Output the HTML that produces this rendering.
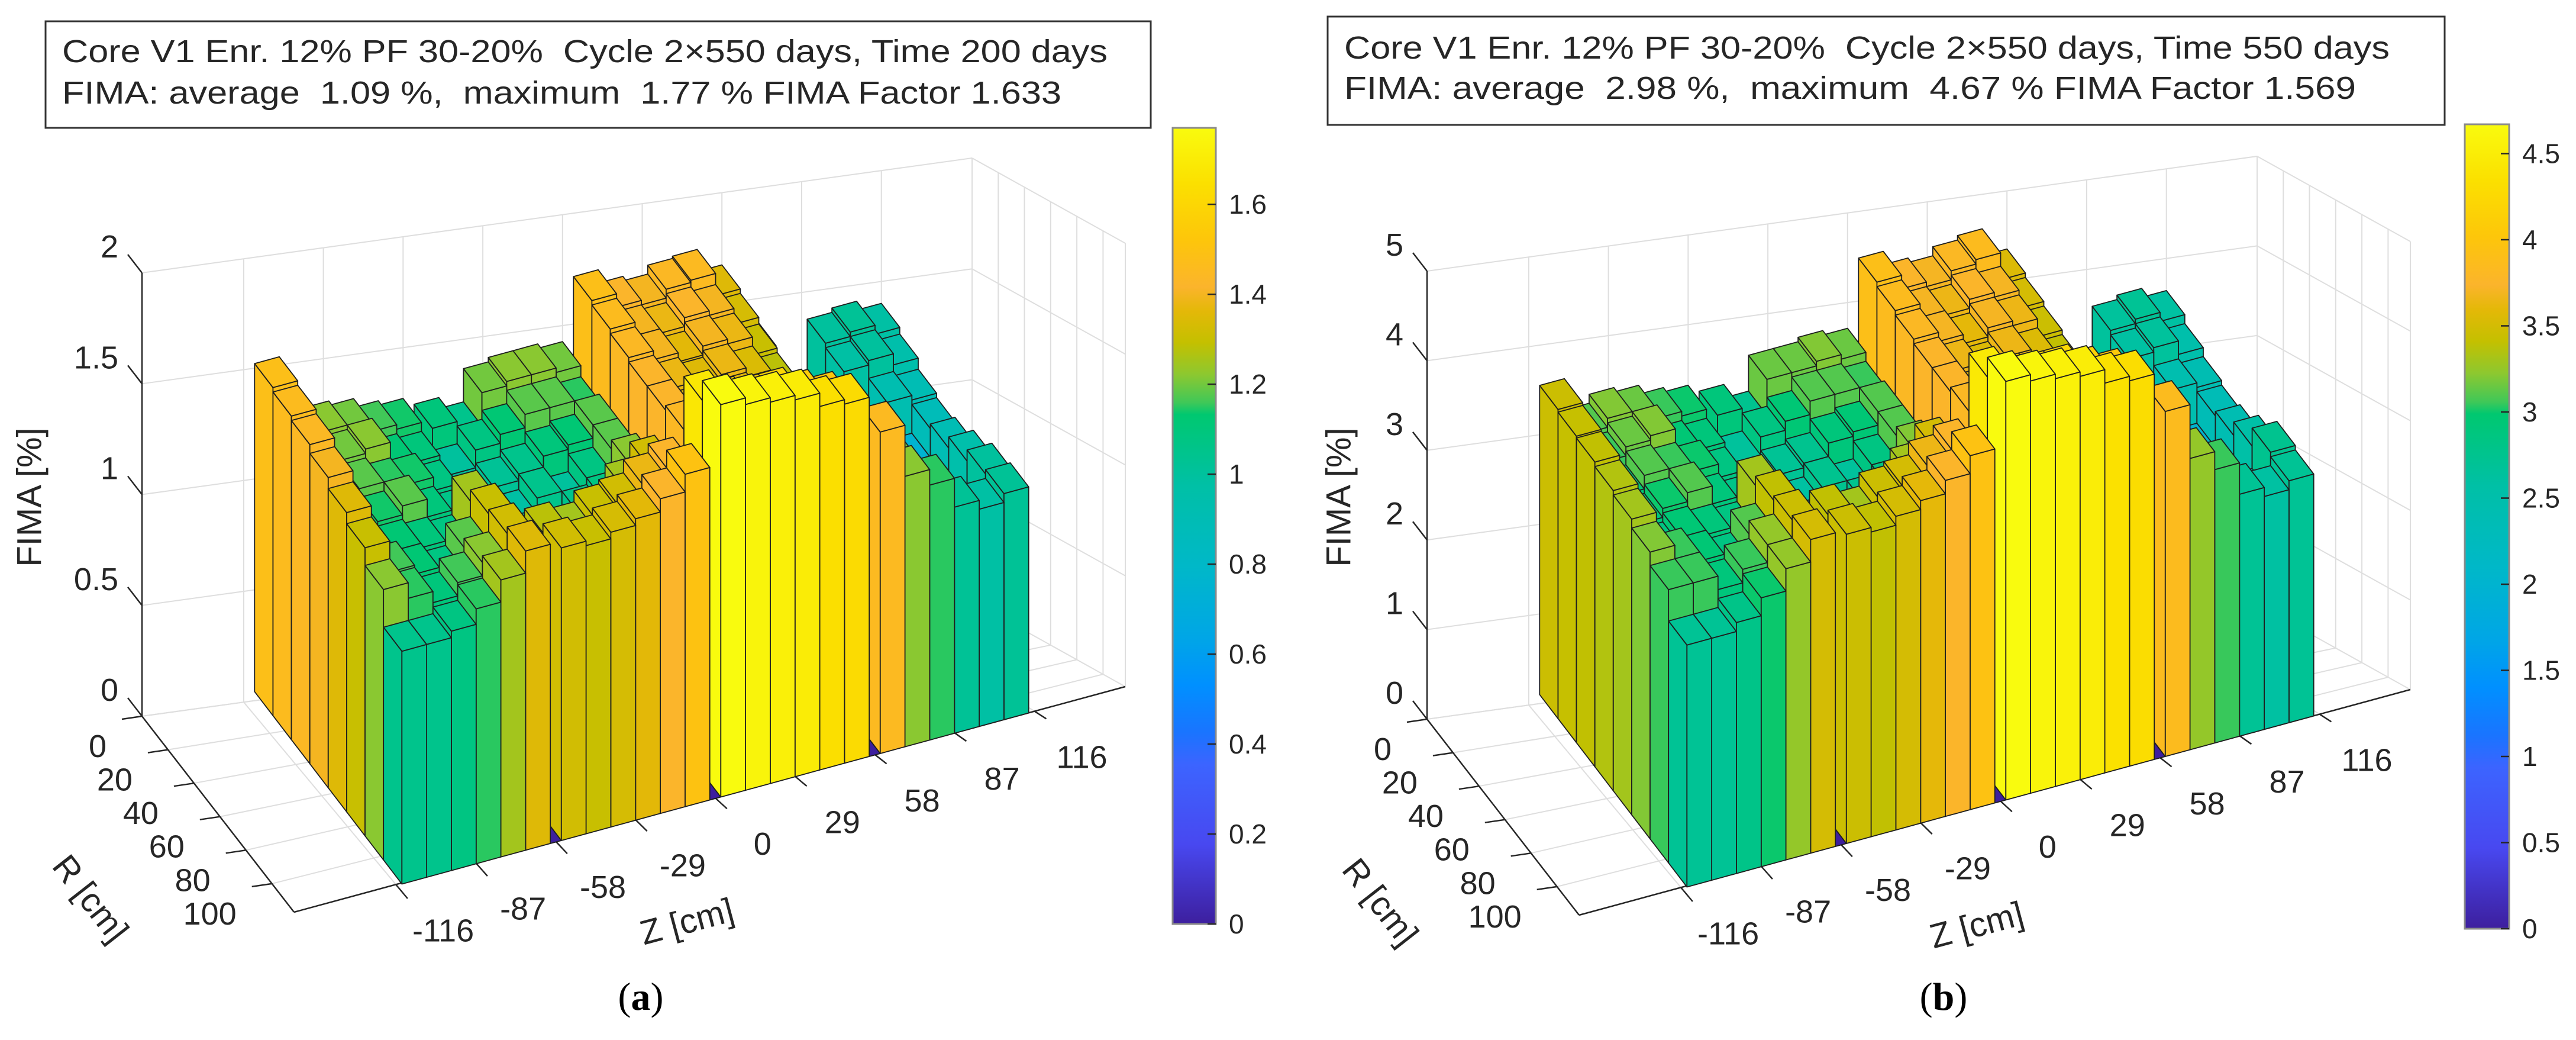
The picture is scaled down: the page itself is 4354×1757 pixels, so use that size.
<!DOCTYPE html>
<html><head><meta charset="utf-8"><title>FIMA 3D bar charts</title>
<style>
html,body{margin:0;padding:0;background:#fff;}
svg{display:block;}
text{font-family:"Liberation Sans",Arial,sans-serif;fill:#262626;}
.cap{font-family:"Liberation Serif","Times New Roman",serif;fill:#000;}
</style></head>
<body>
<svg id="fig" width="4354" height="1757" viewBox="0 0 4354 1757" xmlns="http://www.w3.org/2000/svg">
<defs id="defs"></defs>
<rect x="0" y="0" width="4354" height="1757" fill="#fff"/>
<g id="panelA"></g>
<g id="panelB"></g>

<g>
<rect x="77" y="36" width="1868" height="180" fill="#fff" stroke="#333" stroke-width="3"/>
<text x="105" y="87" font-size="54" dominant-baseline="central" textLength="1767" lengthAdjust="spacingAndGlyphs" style="white-space:pre">Core V1 Enr. 12% PF 30-20%  Cycle 2×550 days, Time 200 days</text>
<text x="105" y="157" font-size="54" dominant-baseline="central" textLength="1689" lengthAdjust="spacingAndGlyphs" style="white-space:pre">FIMA: average  1.09 %,  maximum  1.77 % FIMA Factor 1.633</text>
</g>
<g>
<rect x="2244" y="28" width="1888" height="183" fill="#fff" stroke="#333" stroke-width="3"/>
<text x="2272" y="81" font-size="54" dominant-baseline="central" textLength="1767" lengthAdjust="spacingAndGlyphs" style="white-space:pre">Core V1 Enr. 12% PF 30-20%  Cycle 2×550 days, Time 550 days</text>
<text x="2272" y="149" font-size="54" dominant-baseline="central" textLength="1710" lengthAdjust="spacingAndGlyphs" style="white-space:pre">FIMA: average  2.98 %,  maximum  4.67 % FIMA Factor 1.569</text>
</g>

<text x="50" y="840" font-size="58" text-anchor="middle" dominant-baseline="central" transform="rotate(-90 50 840)">FIMA [%]</text>
<text x="2263" y="840" font-size="58" text-anchor="middle" dominant-baseline="central" transform="rotate(-90 2263 840)">FIMA [%]</text>
<text x="153" y="1518" font-size="58" text-anchor="middle" dominant-baseline="central" transform="rotate(52 153 1518)">R [cm]</text>
<text x="2333" y="1524" font-size="58" text-anchor="middle" dominant-baseline="central" transform="rotate(52 2333 1524)">R [cm]</text>
<text x="1161" y="1557" font-size="58" text-anchor="middle" dominant-baseline="central" transform="rotate(-15 1161 1557)">Z [cm]</text>
<text x="3341" y="1563" font-size="58" text-anchor="middle" dominant-baseline="central" transform="rotate(-15 3341 1563)">Z [cm]</text>

<text class="cap" x="1083" y="1684" font-size="66" text-anchor="middle" dominant-baseline="central">(<tspan font-weight="bold">a</tspan>)</text>
<text class="cap" x="3285" y="1684" font-size="66" text-anchor="middle" dominant-baseline="central">(<tspan font-weight="bold">b</tspan>)</text>
</svg>

<script>
// ---------- data ----------
const zTicks = [-116, -87, -58, -29, 0, 29, 58, 87, 116];
const rTicks = [0, 20, 40, 60, 80, 100];
const hTicksA = [0, 0.5, 1, 1.5, 2];
const hTicksB = [0, 1, 2, 3, 4, 5];
const cbTicksA = [0, 0.2, 0.4, 0.6, 0.8, 1, 1.2, 1.4, 1.6];
const cbTicksB = [0, 0.5, 1, 1.5, 2, 2.5, 3, 3.5, 4, 4.5];
// rows: R bins back (R=0) -> front; columns: Z bins -116 -> 116
const fimaA = [
 [1.48,1.18,1.22,1.20,1.16,1.14, 1.10,1.05,1.20,1.22,1.22,1.20, 1.48,1.42,1.40,1.44,1.45,1.35, 1.05,0.72,0.70,1.00,1.02,0.98],
 [1.46,1.16,1.20,1.22,1.12,1.10, 1.00,1.08,1.12,1.18,1.18,1.15, 1.46,1.40,1.38,1.42,1.40,1.33, 1.02,0.70,0.68,0.98,1.00,0.95],
 [1.44,1.12,1.18,1.15,1.14,1.08, 0.98,1.02,1.05,1.10,1.12,1.18, 1.44,1.40,1.36,1.40,1.38,1.30, 1.00,0.70,0.68,0.72,0.92,0.90],
 [1.40,1.10,1.14,1.18,1.10,1.06, 1.02,0.98,1.05,1.00,1.08,1.18, 1.42,1.38,1.35,1.38,1.34,1.28, 0.98,0.68,0.70,0.70,0.75,0.88],
 [1.35,1.08,1.12,1.10,1.08,1.25, 1.05,1.00,0.98,1.05,1.08,1.22, 1.42,1.36,1.34,1.36,1.32,1.28, 0.98,0.70,0.68,0.70,0.72,0.90],
 [1.30,1.16,1.12,1.08,1.18,1.30, 1.10,1.05,1.02,1.08,1.25,1.32, 1.44,1.40,1.36,1.38,1.36,1.35, 1.05,0.75,0.72,0.70,0.72,0.95],
 [1.22,1.15,1.10,1.16,1.22,1.32, 1.28,1.25,1.30,1.32,1.38,1.42, 1.68,1.62,1.60,1.60,1.56,1.52, 1.30,1.20,0.95,0.80,0.85,1.00],
 [1.05,1.05,1.08,1.15,1.25,1.35, 1.32,1.30,1.33,1.36,1.42,1.50, 1.77,1.74,1.72,1.70,1.64,1.62, 1.45,1.22,1.15,1.02,0.98,1.02]
];
const fimaB = [
 [3.45,3.10,3.20,3.15,3.05,3.00, 2.90,2.75,3.15,3.15,3.20,3.15, 3.90,3.75,3.70,3.80,3.85,3.55, 2.80,1.95,1.90,2.65,2.70,2.60],
 [3.42,3.05,3.15,3.20,2.95,2.90, 2.65,2.85,2.95,3.10,3.10,3.05, 3.85,3.70,3.65,3.75,3.70,3.50, 2.70,1.90,1.85,2.60,2.65,2.50],
 [3.40,2.95,3.10,3.05,3.00,2.85, 2.60,2.70,2.75,2.90,2.95,3.10, 3.80,3.70,3.60,3.70,3.65,3.45, 2.65,1.90,1.85,1.95,2.45,2.40],
 [3.35,2.90,3.00,3.10,2.90,2.80, 2.70,2.60,2.75,2.65,2.85,3.10, 3.75,3.65,3.55,3.65,3.55,3.40, 2.60,1.85,1.90,1.90,2.00,2.35],
 [3.30,2.85,2.95,2.90,2.85,3.30, 2.75,2.65,2.60,2.75,2.85,3.20, 3.75,3.60,3.55,3.60,3.50,3.40, 2.60,1.90,1.85,1.90,1.95,2.40],
 [3.20,3.05,2.95,2.85,3.10,3.40, 2.90,2.75,2.70,2.85,3.30,3.50, 3.80,3.70,3.60,3.65,3.60,3.55, 2.80,2.00,1.95,1.90,1.95,2.55],
 [3.05,3.05,2.90,3.05,3.25,3.45, 3.40,3.30,3.45,3.50,3.65,3.75, 4.45,4.30,4.25,4.25,4.15,4.05, 3.45,3.15,2.50,2.15,2.30,2.75],
 [2.70,2.70,2.80,3.00,3.25,3.50, 3.45,3.40,3.50,3.60,3.75,3.95, 4.67,4.60,4.55,4.50,4.35,4.30, 3.85,3.25,3.05,2.70,2.60,2.70]
];

// ---------- colormap ----------
const CMAP = [
 [0.00,'#3d1f9e'],[0.10,'#4848f0'],[0.20,'#3c64ff'],[0.24,'#1a74ff'],[0.30,'#0090ff'],
 [0.36,'#00a6e6'],[0.45,'#00b8c8'],[0.55,'#00c0a6'],[0.64,'#00c870'],[0.655,'#40c858'],
 [0.69,'#8cc830'],[0.73,'#c4c000'],[0.77,'#e4b808'],[0.80,'#fbb42c'],[0.86,'#fdc60a'],
 [0.93,'#fbe000'],[1.00,'#f9fb0e']
];
function hex2rgb(h){return [parseInt(h.substr(1,2),16),parseInt(h.substr(3,2),16),parseInt(h.substr(5,2),16)];}
function cmap(t){
  t=Math.max(0,Math.min(1,t));
  for(let i=1;i<CMAP.length;i++){
    if(t<=CMAP[i][0]){
      const a=CMAP[i-1],b=CMAP[i];const f=(t-a[0])/(b[0]-a[0]);
      const ca=hex2rgb(a[1]),cb=hex2rgb(b[1]);
      const c=ca.map((v,k)=>Math.round(v+(cb[k]-v)*f));
      return 'rgb('+c.join(',')+')';
    }
  }
  return CMAP[CMAP.length-1][1];
}

const NS='http://www.w3.org/2000/svg';
const defs=document.getElementById('defs');
const grad=document.createElementNS(NS,'linearGradient');
grad.setAttribute('id','cmapGrad');
grad.setAttribute('x1','0');grad.setAttribute('y1','1');grad.setAttribute('x2','0');grad.setAttribute('y2','0');
CMAP.forEach(s=>{const st=document.createElementNS(NS,'stop');st.setAttribute('offset',s[0]);st.setAttribute('stop-color',s[1]);grad.appendChild(st);});
defs.appendChild(grad);

// ---------- geometry ----------
const ZMIN=-153, ZMAX=149, RMIN=0, RMAX=117;
const C_O=[240,1210], C_BR=[1643,1016], C_FR=[1902,1160], C_FL=[497,1541];
const B_O=[421,1171], B_Z=[1078,-294], B_R=[249,325];

function floorPt(p,z,r){
  const u=(z-ZMIN)/(ZMAX-ZMIN), v=(r-RMIN)/(RMAX-RMIN);
  const x=(1-u)*(1-v)*C_O[0]+u*(1-v)*C_BR[0]+u*v*C_FR[0]+(1-u)*v*C_FL[0];
  const y=(1-u)*(1-v)*C_O[1]+u*(1-v)*C_BR[1]+u*v*C_FR[1]+(1-u)*v*C_FL[1];
  return [x+p.dx,y+p.dy];
}
function P(p,z,r,h){const f=floorPt(p,z,r);return [f[0],f[1]-h*p.hs];}
function B(p,z,r,h){
  const u=(z+116)/232, v=r/116;
  return [B_O[0]+u*B_Z[0]+v*B_R[0]+p.dx, B_O[1]+u*B_Z[1]+v*B_R[1]+p.dy-h*p.hs];
}
function zEdges(c){const k=Math.floor(c/6),j=c%6;const z0=-116+58*k+2+9*j;return [z0,z0+9];}
function rEdges(r){return [r*14.5,(r+1)*14.5];}

function mkLine(g,a,b,stroke,w,name){
  const el=document.createElementNS(NS,'line');
  el.setAttribute('x1',a[0].toFixed(1));el.setAttribute('y1',a[1].toFixed(1));
  el.setAttribute('x2',b[0].toFixed(1));el.setAttribute('y2',b[1].toFixed(1));
  el.setAttribute('stroke',stroke);el.setAttribute('stroke-width',w);
  
  
  g.appendChild(el);return el;
}
function mkPoly(g,pts,fill,name){
  const el=document.createElementNS(NS,'polygon');
  el.setAttribute('points',pts.map(q=>q[0].toFixed(1)+','+q[1].toFixed(1)).join(' '));
  el.setAttribute('fill',fill);el.setAttribute('stroke','#1e1e1e');el.setAttribute('stroke-width','1.8');
  el.setAttribute('stroke-linejoin','round');
  
  
  g.appendChild(el);return el;
}
function mkText(g,x,y,str,size,anchor,name){
  const el=document.createElementNS(NS,'text');
  el.setAttribute('x',x.toFixed(1));el.setAttribute('y',y.toFixed(1));
  el.setAttribute('font-size',size);el.setAttribute('text-anchor',anchor);
  el.setAttribute('dominant-baseline','central');
  el.textContent=str;
  
  
  g.appendChild(el);return el;
}

function drawPanel(p){
  const g=document.getElementById(p.id);
  const data=p.data, hMax=p.hTicks[p.hTicks.length-1];
  const GRID='#dedede';
  p.hTicks.forEach(h=>mkLine(g,P(p,ZMIN,RMIN,h),P(p,ZMAX,RMIN,h),GRID,2,'back-wall-gridline'));
  zTicks.forEach(z=>mkLine(g,P(p,z,RMIN,0),P(p,z,RMIN,hMax),GRID,2,'back-wall-gridline'));
  p.hTicks.forEach(h=>mkLine(g,P(p,ZMAX,RMIN,h),P(p,ZMAX,RMAX,h),GRID,2,'side-wall-gridline'));
  rTicks.forEach(r=>mkLine(g,P(p,ZMAX,r,0),P(p,ZMAX,r,hMax),GRID,2,'side-wall-gridline'));
  mkLine(g,P(p,ZMAX,RMIN,0),P(p,ZMAX,RMIN,hMax),GRID,2,'side-wall-gridline');
  mkLine(g,P(p,ZMAX,RMAX,0),P(p,ZMAX,RMAX,hMax),GRID,2,'side-wall-gridline');
  zTicks.forEach(z=>mkLine(g,P(p,z,RMIN,0),P(p,z,RMAX,0),GRID,2,'floor-gridline'));
  rTicks.forEach(r=>mkLine(g,P(p,ZMIN,r,0),P(p,ZMAX,r,0),GRID,2,'floor-gridline'));
  const AX='#262626';
  mkLine(g,P(p,ZMIN,RMIN,0),P(p,ZMIN,RMIN,hMax),AX,2.5,'vertical-axis-line');
  mkLine(g,P(p,ZMIN,RMIN,0),P(p,ZMIN,RMAX,0),AX,2.5,'r-axis-line');
  mkLine(g,P(p,ZMIN,RMAX,0),P(p,ZMAX,RMAX,0),AX,2.5,'z-axis-line');
  p.hTicks.forEach(h=>{
    const a=P(p,ZMIN,RMIN,h);
    mkLine(g,a,[a[0]-24,a[1]-31],AX,2.5,'vertical-tick');
    mkText(g,a[0]-40,a[1]-44,String(h),54,'end','vertical-tick-label');
  });
  rTicks.forEach(r=>{
    const a=P(p,ZMIN,r,0);
    mkLine(g,a,[a[0]-34,a[1]+5],AX,2.5,'r-tick');
    mkText(g,a[0]-60,a[1]+51,String(r),54,'end','r-tick-label');
  });
  zTicks.forEach(z=>{
    const a=P(p,z,RMAX,0), b=P(p,z,RMAX+9,0);
    mkLine(g,a,b,AX,2.5,'z-tick');
    mkText(g,a[0]+80,a[1]+78,String(z),54,'middle','z-tick-label');
  });
  [-58,0,58].forEach(zg=>{
    mkPoly(g,[B(p,zg-2,0,0),B(p,zg+2,0,0),B(p,zg+2,116,0),B(p,zg-2,116,0)],cmap(0),'zero-gap');
  });
  const cmax=Math.max(...data.map(row=>Math.max(...row)));
  for(let r=0;r<data.length;r++){
    for(let c=data[r].length-1;c>=0;c--){
      const h=data[r][c];
      const [z0,z1]=zEdges(c),[r0,r1]=rEdges(r);
      const col=cmap(h/cmax);
      const bg=document.createElementNS(NS,'g');
      
      
      g.appendChild(bg);
      mkPoly(bg,[B(p,z0,r0,0),B(p,z0,r1,0),B(p,z0,r1,h),B(p,z0,r0,h)],col,'bar-side-face');
      mkPoly(bg,[B(p,z0,r1,0),B(p,z1,r1,0),B(p,z1,r1,h),B(p,z0,r1,h)],col,'bar-front-face');
      mkPoly(bg,[B(p,z0,r0,h),B(p,z1,r0,h),B(p,z1,r1,h),B(p,z0,r1,h)],col,'bar-top-face');
    }
  }
  const cb=document.createElementNS(NS,'g');
  
  
  g.appendChild(cb);
  const rc=document.createElementNS(NS,'rect');
  rc.setAttribute('x',p.cbx);rc.setAttribute('y',p.cbt);rc.setAttribute('width',p.cbw);rc.setAttribute('height',p.cbb-p.cbt);
  rc.setAttribute('fill','url(#cmapGrad)');rc.setAttribute('stroke','#8a8a8a');rc.setAttribute('stroke-width','3');
  
  
  cb.appendChild(rc);
  p.cbTicks.forEach(v=>{
    const y=p.cbb-(v/cmax)*(p.cbb-p.cbt);
    mkLine(cb,[p.cbx+p.cbw,y],[p.cbx+p.cbw-14,y],'#262626',2.5,'colorbar-tick');
    mkText(cb,p.cbx+p.cbw+22,y,String(v),46,'start','colorbar-tick-label');
  });
}

drawPanel({id:'panelA',dx:0,dy:0,hs:374.5,data:fimaA,hTicks:hTicksA,cbTicks:cbTicksA,cbx:1982,cbw:73,cbt:216,cbb:1561});
drawPanel({id:'panelB',dx:2172,dy:5,hs:151.4,data:fimaB,hTicks:hTicksB,cbTicks:cbTicksB,cbx:4166,cbw:75,cbt:210,cbb:1569});
</script>
</body></html>
